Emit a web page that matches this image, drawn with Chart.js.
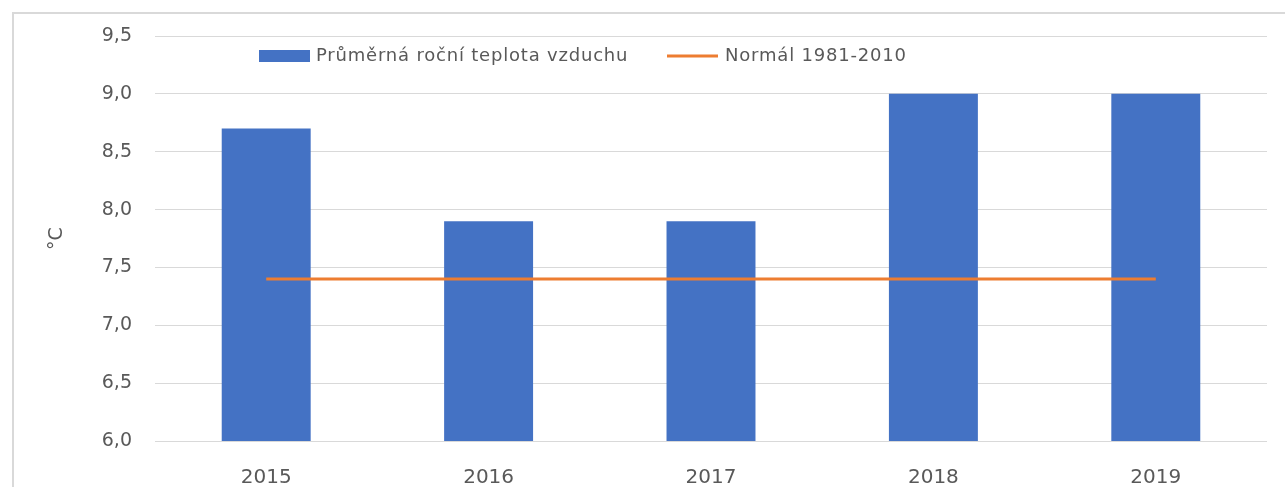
<!DOCTYPE html>
<html>
<head>
<meta charset="utf-8">
<script src="https://cdn.jsdelivr.net/npm/chart.js@4"></script>
<style>
  html, body { margin: 0; padding: 0; background: #fff; }
  #wrap { width: 1285px; height: 487px; }
</style>
</head>
<body>
<div id="wrap"><canvas id="temp-chart"></canvas></div>
<script>
const years = ["2015", "2016", "2017", "2018", "2019"];
const avgTemp = [8.7, 7.9, 7.9, 9.0, 9.0];
const normal = [7.4, 7.4, 7.4, 7.4, 7.4];
const avgLabel = "Průměrná roční teplota vzduchu";
const normalLabel = "Normál 1981-2010";
const axisTitle = "°C";

const gray = "#595959";

// frame + legend drawn inside the plot like the excel original
const framePlugin = {
  id: "frame",
  beforeDraw(chart) {
    const ctx = chart.ctx;
    ctx.save();
    ctx.strokeStyle = "#d9d9d9";
    ctx.lineWidth = 2;
    ctx.beginPath();
    ctx.moveTo(13, 487);
    ctx.lineTo(13, 13);
    ctx.lineTo(1285, 13);
    ctx.stroke();
    ctx.restore();
  },
  afterDraw(chart) {
    const ctx = chart.ctx;
    const ds = chart.data.datasets;
    ctx.save();
    ctx.font = "18px 'DejaVu Sans'";
    ctx.letterSpacing = "0.8px";
    ctx.textBaseline = "middle";
    // bar item
    ctx.fillStyle = ds[1].backgroundColor;
    ctx.fillRect(259, 50, 51, 12);
    ctx.fillStyle = gray;
    ctx.fillText(ds[1].label, 316, 56);
    // line item
    ctx.strokeStyle = ds[0].borderColor;
    ctx.lineWidth = 3;
    ctx.beginPath();
    ctx.moveTo(667, 56);
    ctx.lineTo(718, 56);
    ctx.stroke();
    ctx.fillText(ds[0].label, 725, 56);
    ctx.restore();
  }
};

new Chart(document.getElementById("temp-chart"), {
  data: {
    labels: years,
    datasets: [
      {
        type: "line",
        label: normalLabel,
        data: normal,
        borderColor: "#ED7D31",
        borderWidth: 3,
        pointRadius: 0,
        order: 0
      },
      {
        type: "bar",
        label: avgLabel,
        data: avgTemp,
        backgroundColor: "#4472C4",
        barPercentage: 0.4,
        categoryPercentage: 1,
        order: 1
      }
    ]
  },
  options: {
    responsive: true,
    maintainAspectRatio: false,
    animation: false,
    layout: { padding: { left: 14, top: 36, right: 18, bottom: 0 } },
    plugins: {
      legend: { display: false },
      tooltip: { enabled: false }
    },
    scales: {
      x: {
        grid: { display: false },
        border: { display: false },
        ticks: {
          color: gray,
          font: { family: "DejaVu Sans", size: 20 },
          padding: 17
        },
        afterFit(scale) { scale.height = 46; }
      },
      y: {
        min: 6,
        max: 9.5,
        grid: { color: "#d9d9d9", lineWidth: 1, drawTicks: false },
        border: { display: false },
        ticks: {
          stepSize: 0.5,
          color: gray,
          font: { family: "DejaVu Sans", size: 19 },
          padding: 23,
          callback: (v) => v.toFixed(1).replace(".", ",")
        },
        title: {
          display: true,
          text: axisTitle,
          color: gray,
          font: { family: "DejaVu Sans", size: 19 },
          padding: { top: 32, bottom: 0 }
        },
        afterFit(scale) { scale.width = 141; }
      }
    }
  },
  plugins: [framePlugin]
});
</script>
</body>
</html>
